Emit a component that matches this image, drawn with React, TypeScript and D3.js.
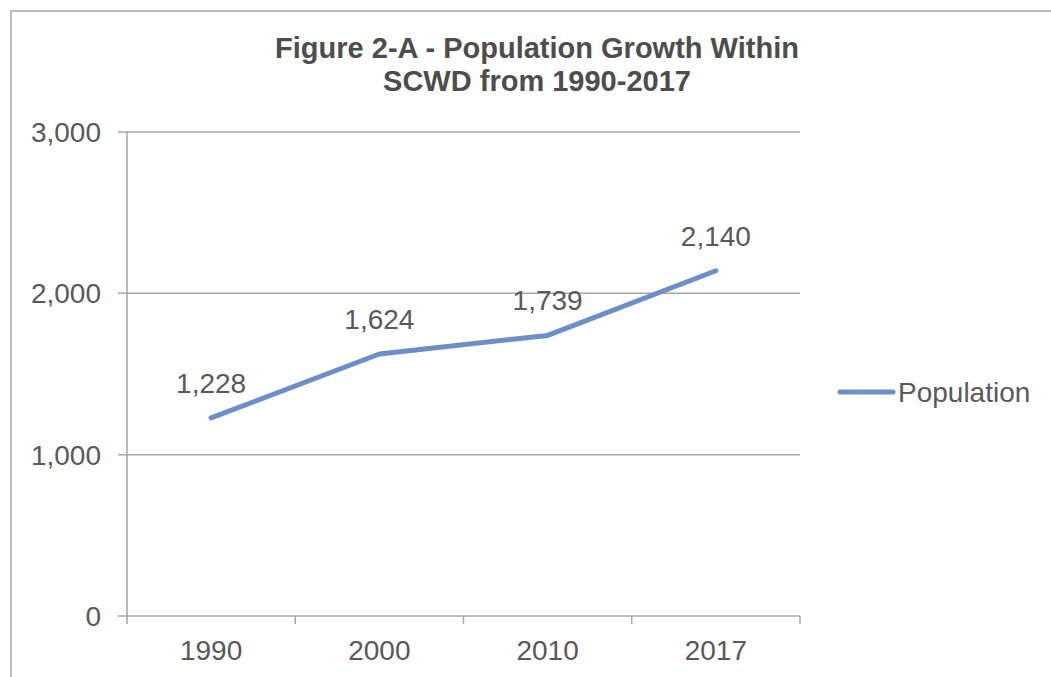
import React from "react";
import * as d3 from "d3";

const years: string[] = ["1990", "2000", "2010", "2017"];
const population: number[] = [1228, 1624, 1739, 2140];
const yTicks: number[] = [0, 1000, 2000, 3000];
const titleLines: string[] = ["Figure 2-A - Population Growth Within", "SCWD from 1990-2017"];
const seriesName = "Population";

const W = 1051;
const H = 677;
const plot = { left: 127, right: 800, top: 132, bottom: 616 };
const lineColor = "#6D8FC8";
const gridColor = "#A6A6A6";
const textColor = "#595959";
const font = "Arial, 'Liberation Sans', sans-serif";

export default function App() {
  const x = d3.scaleBand<string>().domain(years).range([plot.left, plot.right]).padding(0);
  const y = d3.scaleLinear().domain([0, 3000]).range([plot.bottom, plot.top]);
  const cx = (d: string) => (x(d) as number) + x.bandwidth() / 2;
  const fmt = d3.format(",");
  const pts: [number, number][] = years.map((yr, i) => [cx(yr), y(population[i])]);
  const line = d3.line<[number, number]>().x((d) => d[0]).y((d) => d[1]);
  const boundaries = [...years.map((yr) => x(yr) as number), plot.right];

  return (
    <svg
      width={W}
      height={H}
      style={{ position: "absolute", left: 0, top: 0, background: "#fff" }}
      fontFamily={font}
    >
      <rect x={0} y={0} width={W} height={H} fill="#fff" />
      <rect x={11} y={11} width={W + 20} height={H + 20} fill="none" stroke={gridColor} strokeWidth={1.5} />
      {titleLines.map((t, i) => (
        <text
          key={t}
          x={537}
          y={58 + i * 33}
          textAnchor="middle"
          fontSize={29}
          fontWeight="bold"
          fill="#4D4D4D"
        >
          {t}
        </text>
      ))}
      {yTicks.map((v) => (
        <g key={v}>
          <line x1={118} x2={plot.right} y1={y(v)} y2={y(v)} stroke={gridColor} strokeWidth={1.5} />
          <text x={101} y={y(v) + 10} textAnchor="end" fontSize={28} fill={textColor}>
            {fmt(v)}
          </text>
        </g>
      ))}
      <line x1={plot.left} x2={plot.left} y1={plot.top} y2={plot.bottom} stroke={gridColor} strokeWidth={1.5} />
      {boundaries.map((bx, i) => (
        <line key={i} x1={bx} x2={bx} y1={plot.bottom} y2={plot.bottom + 8} stroke={gridColor} strokeWidth={1.5} />
      ))}
      {years.map((yr) => (
        <text key={yr} x={cx(yr)} y={660} textAnchor="middle" fontSize={28} fill={textColor}>
          {yr}
        </text>
      ))}
      <path
        d={line(pts) || ""}
        fill="none"
        stroke={lineColor}
        strokeWidth={5}
        strokeLinecap="round"
        strokeLinejoin="round"
      />
      {pts.map((p, i) => (
        <text key={i} x={p[0]} y={p[1] - 25} textAnchor="middle" fontSize={28} fill={textColor}>
          {fmt(population[i])}
        </text>
      ))}
      <line x1={840} x2={893} y1={392} y2={392} stroke={lineColor} strokeWidth={5} strokeLinecap="round" />
      <text x={898} y={402} fontSize={28} fill={textColor}>
        {seriesName}
      </text>
    </svg>
  );
}
